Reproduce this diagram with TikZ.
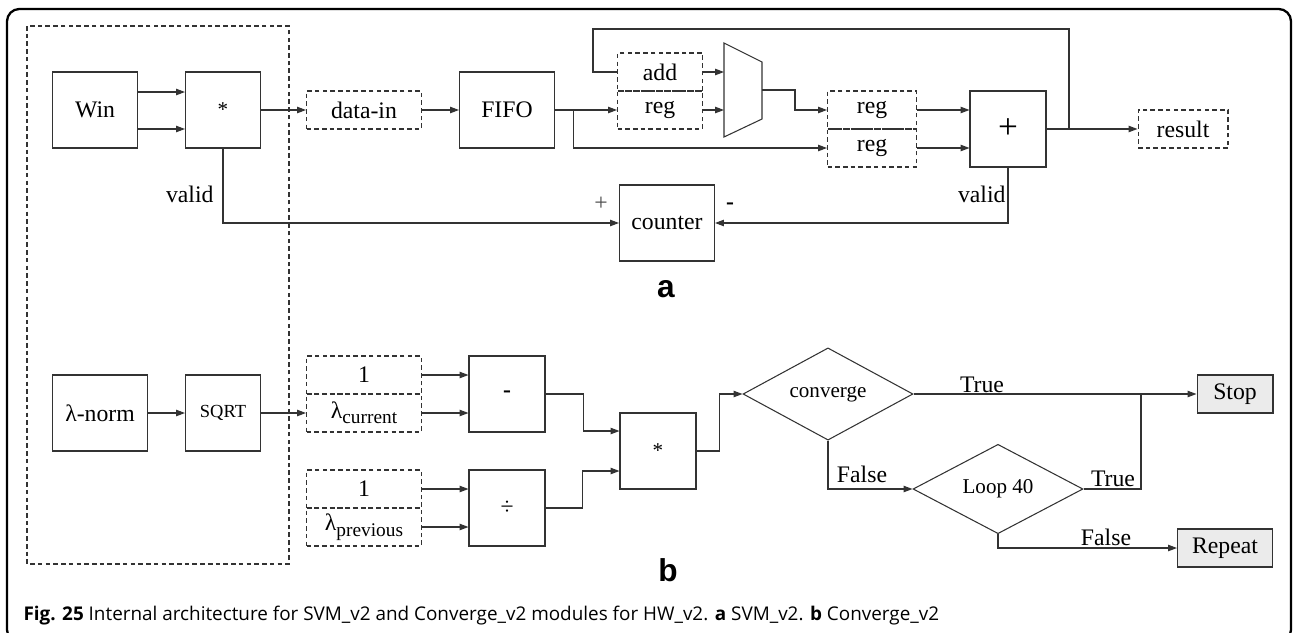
\documentclass[tikz,border=0pt]{standalone}
\usepackage{fontspec}
\setmainfont{Liberation Serif}
\newfontfamily\capfont{Open Sans}
\newfontfamily\tagfont{Liberation Sans}
\usetikzlibrary{shapes.geometric,arrows.meta}

\newcommand{\lsub}[1]{λ\raisebox{-0.5ex}{\fontsize{11}{12}\selectfont #1}}

\begin{document}
\begin{tikzpicture}[x=0.02cm,y=-0.02cm,
    line width=0.6pt, color=black!80,
    >={Triangle[length=5pt,width=3.6pt]},
    every node/.style={font=\fontsize{13.5}{16}\selectfont, text=black},
    blk/.style={draw,rectangle,inner sep=0pt,minimum height=1.52cm},
    dblk/.style={draw,dash pattern=on 2.6pt off 1.8pt,inner sep=0pt,minimum height=0.76cm},
    decide/.style={draw,diamond,inner sep=0pt,minimum width=3.4cm,minimum height=1.48cm,font=\fontsize{12}{14}\selectfont},
    term/.style={draw,fill=black!8,inner sep=0pt,minimum height=0.76cm},
    lbl/.style={inner sep=0pt,anchor=base}]
    \useasboundingbox (0,0) rectangle (1293,632);
    \draw[line width=1.3pt,black,rounded corners=7pt] (7,9) rectangle (1291,642);
    \draw[dash pattern=on 2.6pt off 1.8pt] (27,26) rectangle (289,564);

    \node[blk,minimum width=1.7cm] (win) at (95,110) {Win};
    \node[blk,minimum width=1.5cm,font=\fontsize{12}{14}\selectfont] (mul) at (223,110) {*};
    \node[dblk,minimum width=2.3cm] (datain) at (364,110) {data-in};
    \node[blk,minimum width=1.9cm] (fifo) at (507,110) {FIFO};
    \node[dblk,minimum width=1.7cm] (add) at (660,72) {add};
    \node[dblk,minimum width=1.7cm] (rega) at (660,110) {reg};
    \draw (724,43) -- (762,62) -- (762,119) -- (724,137) -- cycle;
    \coordinate (muxa) at (724,72);
    \coordinate (muxb) at (724,110);
    \coordinate (muxo) at (762,90);
    \node[dblk,minimum width=1.78cm] (regb) at (872,110) {reg};
    \node[dblk,minimum width=1.78cm] (regc) at (872,148) {reg};
    \node[blk,minimum width=1.52cm,font=\fontsize{20}{20}\selectfont] (plus) at (1008,129) {+};
    \node[dblk,minimum width=1.8cm] (result) at (1183,129) {result};
    \node[blk,minimum width=1.9cm] (counter) at (667,223) {counter};
    \coordinate (fb) at (1069,129);
    \coordinate (fbtop) at (593,29);

    \draw[->] ([yshift=0.36cm]win.east) -- ([yshift=0.36cm]mul.west);
    \draw[->] ([yshift=-0.38cm]win.east) -- ([yshift=-0.38cm]mul.west);
    \draw[->] (mul) -- (datain);
    \draw[->] (datain) -- (fifo);
    \draw[->] (fifo) -- (rega);
    \draw[->] (fifo.east) -- ++(18,0) |- (regc.west);
    \draw[->] (add) -- (muxa);
    \draw[->] (rega) -- (muxb);
    \draw[->] (muxo) -- ++(33,0) |- (regb.west);
    \draw[->] (regb) -- (regb -| plus.west);
    \draw[->] (regc) -- (regc -| plus.west);
    \draw[->] (plus) -- (result);
    \draw (fb) |- (fbtop) |- (add.west);
    \draw[->] (mul.south) |- (counter.west);
    \draw[->] (plus.south) |- (counter.east);

    \node[lbl,anchor=base east] (va) at (214,202) {valid};
    \node[lbl,anchor=base east] (vb) at (1006,202) {valid};
    \node[text=black!70] (pl) at (601,204) {+};
    \node[font=\bfseries\fontsize{13.5}{16}\selectfont] (mi) at (730,206) {-};
    \node[font=\tagfont\bfseries\fontsize{18}{18}\selectfont] (taga) at (666,289) {a};

    \node[blk,minimum width=1.9cm] (lnorm) at (100,413) {λ-norm};
    \node[blk,minimum width=1.5cm,font=\fontsize{10.5}{12}\selectfont] (sqrt) at (223,413) {SQRT};
    \node[dblk,minimum width=2.3cm] (onea) at (364,375) {1};
    \node[dblk,minimum width=2.3cm] (lcur) at (364,413) {\lsub{current}};
    \node[dblk,minimum width=2.3cm] (oneb) at (364,489) {1};
    \node[dblk,minimum width=2.3cm] (lprev) at (364,527) {\lsub{previous}};
    \node[blk,minimum width=1.52cm,font=\bfseries\fontsize{13.5}{16}\selectfont] (sub) at (507,394) {-};
    \node[blk,minimum width=1.52cm] (div) at (507,508) {÷};
    \node[blk,minimum width=1.52cm,font=\fontsize{12}{14}\selectfont] (prod) at (658,451) {*};
    \node[decide] (conv) at (828,394) {converge};
    \node[decide] (loop) at (998,489) {Loop 40};
    \node[term,minimum width=1.52cm] (stop) at (1235,394) {Stop};
    \node[term,minimum width=1.9cm] (rep) at (1225,548) {Repeat};
    \coordinate (join) at (1141,394);

    \draw[->] (lnorm) -- (sqrt);
    \draw[->] (sqrt) -- (lcur);
    \draw[->] (onea) -- (onea -| sub.west);
    \draw[->] (lcur) -- (lcur -| sub.west);
    \draw[->] (oneb) -- (oneb -| div.west);
    \draw[->] (lprev) -- (lprev -| div.west);
    \draw[->] (sub.east) -- ++(38,0) |- ([yshift=0.4cm]prod.west);
    \draw[->] (div.east) -- ++(37,0) |- ([yshift=-0.4cm]prod.west);
    \draw[->] (prod.east) -- ++(23,0) |- (conv.west);
    \draw[->] (conv) -- (stop);
    \draw[->] (conv.south) |- (loop.west);
    \draw (loop.east) -| (join);
    \draw[->] (loop.south) |- (rep.west);

    \node[lbl] (ta) at (982,392) {True};
    \node[lbl] (fa) at (862,482) {False};
    \node[lbl] (tb) at (1113,486) {True};
    \node[lbl] (fb2) at (1106,545) {False};
    \node[font=\tagfont\bfseries\fontsize{18}{18}\selectfont] (tagb) at (668,570) {b};

    \node[anchor=base west,inner sep=0pt,font=\capfont\fontsize{10.75}{12}\selectfont] (cap) at (23,620)
      {\textbf{Fig. 25} Internal architecture for SVM\_v2 and Converge\_v2 modules for HW\_v2. \textbf{a} SVM\_v2. \textbf{b} Converge\_v2};
\end{tikzpicture}
\end{document}
